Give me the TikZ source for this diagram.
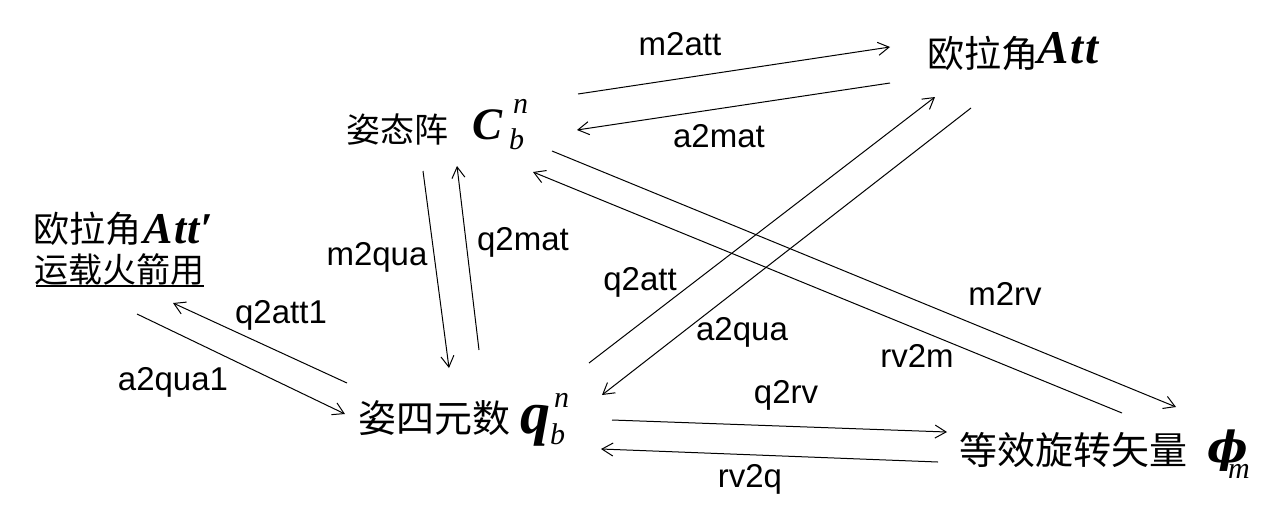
\documentclass[tikz,border=0pt]{standalone}
\usepackage{fontspec}
\setmainfont{Liberation Sans}
\newfontfamily\cjk{Noto Sans CJK SC}
\newfontfamily\tnr{Liberation Serif}
\newfontfamily\dvs{DejaVu Serif}
\usetikzlibrary{arrows.meta}
\begin{document}
\begin{tikzpicture}[x=1pt,y=-1pt,
  conn/.style={line width=1pt,-{Straight Barb[length=11pt,width=13pt,line width=1pt]}},
  lbl/.style={inner sep=0pt,anchor=base,font=\fontsize{33}{33}\selectfont},
  txt/.style={inner sep=0pt,anchor=base west},
  cj/.style={txt,font=\cjk\fontsize{#1}{#1}\selectfont},
  bi/.style={txt,font=\tnr\bfseries\itshape\fontsize{#1}{#1}\selectfont},
  it/.style={txt,font=\tnr\itshape\fontsize{#1}{#1}\selectfont},
]
\useasboundingbox (0,0) rectangle (1268,515);
% attitude matrix
\node[cj=34] (mat) at (346,142) {姿态阵};
\node[bi=45] (matC) at (472,139) {C};
\node[it=30] (matn) at (513,113) {n};
\node[it=30] (matb) at (509,149) {b};
% Euler angles (right)
\node[cj=37] (att) at (927,67) {欧拉角};
\node[bi=47] (attA) at (1037,63) {A\kern2pt t\kern2pt t};
% Euler angles (left)
\node[cj=36] (atl) at (33,242) {欧拉角};
\node[bi=44] (atlA) at (143,243) {A\kern1.5pt t\kern1.5pt t\kern1pt′};
\node[cj=34] (rocket) at (34,282) {运载火箭用};
\draw[line width=2pt] (rocket.south west) ++(2,1) coordinate (ul1) -- (rocket.south east |- ul1) coordinate (ul2);
% quaternion
\node[cj=38] (qua) at (358,432) {姿四元数};
\node[bi=60] (quaq) at (520,433) {q};
\node[it=30] (quan) at (554,407) {n};
\node[it=30] (quab) at (550,444) {b};
% rotation vector
\node[cj=38] (rv) at (959,464) {等效旋转矢量};
\node[txt,font=\dvs\bfseries\itshape\fontsize{43}{43}\selectfont] (rvphi) at (1207,462) {ϕ};
\node[it=30] (rvm) at (1228,478) {m};
% arrow end points
\coordinate (m2atta) at (578,94);  \coordinate (m2attb) at (890,47);
\coordinate (a2mata) at (890,83);  \coordinate (a2matb) at (577,130);
\coordinate (m2quaa) at (423,171); \coordinate (m2quab) at (449,368);
\coordinate (q2mata) at (479,350); \coordinate (q2matb) at (457,166);
\coordinate (m2rva) at (552,151);  \coordinate (m2rvb) at (1176,407);
\coordinate (rv2ma) at (1122,413); \coordinate (rv2mb) at (533,172);
\coordinate (q2atta) at (589,363); \coordinate (q2attb) at (935,97);
\coordinate (a2quaa) at (971,108); \coordinate (a2quab) at (602,395);
\coordinate (q2attia) at (347,383); \coordinate (q2attib) at (173,303);
\coordinate (a2quaia) at (137,314); \coordinate (a2quaib) at (345,414);
\coordinate (q2rva) at (612,420);  \coordinate (q2rvb) at (947,432);
\coordinate (rv2qa) at (938,462);  \coordinate (rv2qb) at (601,449);
\draw[conn] (m2atta) -- (m2attb);
\draw[conn] (a2mata) -- (a2matb);
\draw[conn] (m2quaa) -- (m2quab);
\draw[conn] (q2mata) -- (q2matb);
\draw[conn] (m2rva) -- (m2rvb);
\draw[conn] (rv2ma) -- (rv2mb);
\draw[conn] (q2atta) -- (q2attb);
\draw[conn] (a2quaa) -- (a2quab);
\draw[conn] (q2attia) -- (q2attib);
\draw[conn] (a2quaia) -- (a2quaib);
\draw[conn] (q2rva) -- (q2rvb);
\draw[conn] (rv2qa) -- (rv2qb);
% labels
\node[lbl] (l1) at (680,55) {m2att};
\node[lbl] (l2) at (719,147) {a2mat};
\node[lbl] (l3) at (377,265) {m2qua};
\node[lbl] (l4) at (523,250) {q2mat};
\node[lbl] (l5) at (640,290) {q2att};
\node[lbl] (l6) at (742,340) {a2qua};
\node[lbl] (l7) at (917,367) {rv2m};
\node[lbl] (l8) at (1005,305) {m2rv};
\node[lbl] (l9) at (786,403) {q2rv};
\node[lbl] (l10) at (750,487) {rv2q};
\node[lbl] (l11) at (281,323) {q2att1};
\node[lbl] (l12) at (173,390) {a2qua1};
\end{tikzpicture}
\end{document}
